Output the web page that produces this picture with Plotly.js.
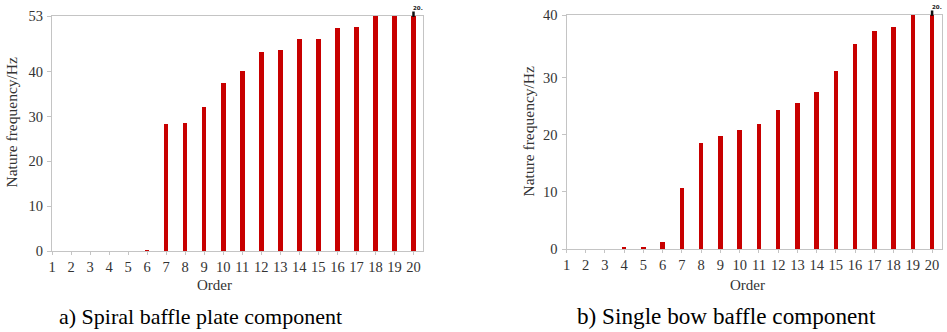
<!DOCTYPE html>
<html>
<head>
<meta charset="utf-8">
<script src="https://cdn.plot.ly/plotly-3.0.1.min.js"></script>
<style>html,body{margin:0;padding:0;background:#fff;}#chart{width:947px;height:332px;}</style>
</head>
<body>
<div id="chart"></div>
<script>
// ---- data ----
const orders = [1,2,3,4,5,6,7,8,9,10,11,12,13,14,15,16,17,18,19,20];
const spiralFreq = [0,0,0,0,0,0.3,28.3,28.5,32.2,37.5,40.1,44.3,44.8,47.3,47.3,49.8,50.0,52.5,52.7,53.0];
const bowFreq = [0,0,0,0.4,0.4,1.2,10.6,18.5,19.8,20.8,21.8,24.3,25.6,27.5,31.2,35.8,38.2,38.9,41.0,41.3];
const spiralTickVals = [0,10,20,30,40,52.4];
const spiralTickText = ["0","10","20","30","40","53"];
const bowTickVals = [0,10,20,30,40.94];
const bowTickText = ["0","10","20","30","40"];
const xTickText = orders.map(String);
const yTitle = "Nature frequency/Hz";
const xTitle = "Order";
const captionA = "a) Spiral baffle plate component";
const captionB = "b) Single bow baffle component";

const red = "#c80000";
const serif = "Liberation Serif";
const tickFont = {family: serif, size: 14.5, color: "#333"};

const traces = [
  {type: "bar", x: orders, y: spiralFreq, xaxis: "x", yaxis: "y", width: 0.24,
   marker: {color: red, line: {width: 0}}, hoverinfo: "x+y"},
  {type: "bar", x: orders, y: bowFreq, xaxis: "x2", yaxis: "y2", width: 0.23,
   marker: {color: red, line: {width: 0}}, hoverinfo: "x+y"}
];

function xAxis(domain) {
  return {domain: domain, range: [1, 20.5], tickmode: "array", tickvals: orders, ticktext: xTickText,
    showgrid: false, zeroline: false, showline: true, linecolor: "#c4c4c4", linewidth: 1, mirror: true,
    ticks: "outside", ticklen: 3, tickcolor: "#c4c4c4", tickwidth: 1,
    tickfont: tickFont, ticklabelstandoff: 0, fixedrange: true};
}
function yAxis(domain, range, vals, text, anchor) {
  return {domain: domain, range: range, tickmode: "array", tickvals: vals, ticktext: text, anchor: anchor,
    showgrid: false, zeroline: false, showline: true, linecolor: "#c4c4c4", linewidth: 1, mirror: true,
    ticks: "outside", ticklen: 4, tickcolor: "#c4c4c4", tickwidth: 1,
    tickfont: tickFont, ticklabelstandoff: 1, fixedrange: true};
}

const W = 947, H = 332;
const px = v => v / W, py = v => 1 - v / H;

function label(x, y, text, size, color, extra) {
  return Object.assign({xref: "paper", yref: "paper", x: px(x), y: py(y), text: text, showarrow: false,
    xanchor: "center", yanchor: "middle", font: {family: serif, size: size, color: color}}, extra || {});
}

const layout = {
  width: W, height: H,
  margin: {l: 0, r: 0, t: 0, b: 0},
  paper_bgcolor: "#fff", plot_bgcolor: "#fff",
  showlegend: false,
  bargap: 0,
  xaxis: Object.assign(xAxis([px(52), px(423)]), {anchor: "y"}),
  yaxis: yAxis([py(251), py(16)], [0, spiralTickVals[spiralTickVals.length - 1]], spiralTickVals, spiralTickText, "x"),
  xaxis2: Object.assign(xAxis([px(566.5), px(941.7)]), {anchor: "y2"}),
  yaxis2: yAxis([py(249), py(15)], [0, bowTickVals[bowTickVals.length - 1]], bowTickVals, bowTickText, "x2"),
  shapes: [
    {type: "line", xref: "x", yref: "paper", x0: orders[19], x1: orders[19], y0: py(17), y1: py(11.5),
     line: {color: "#111", width: 2.5}},
    {type: "line", xref: "x2", yref: "paper", x0: orders[19], x1: orders[19], y0: py(16), y1: py(10.5),
     line: {color: "#111", width: 2.5}}
  ],
  annotations: [
    label(11, 122.5, yTitle, 15.5, "#333", {textangle: -90}),
    label(527.5, 131, yTitle, 15.5, "#333", {textangle: -90}),
    label(214, 285, xTitle, 15, "#333"),
    label(747, 285, xTitle, 15, "#333"),
    label(200.5, 316, captionA, 22, "#000"),
    label(726.5, 316, captionB, 23.2, "#000"),
    {xref: "x", yref: "paper", x: orders[19], y: py(8), xshift: 5, text: "<b>20.</b>", showarrow: false,
     xanchor: "center", yanchor: "middle", font: {family: "DejaVu Sans", size: 5.5, color: "#222"}},
    {xref: "x2", yref: "paper", x: orders[19], y: py(7), xshift: 5, text: "<b>20.</b>", showarrow: false,
     xanchor: "center", yanchor: "middle", font: {family: "DejaVu Sans", size: 5.5, color: "#222"}}
  ]
};

Plotly.newPlot("chart", traces, layout, {staticPlot: true, displayModeBar: false});
</script>
</body>
</html>
